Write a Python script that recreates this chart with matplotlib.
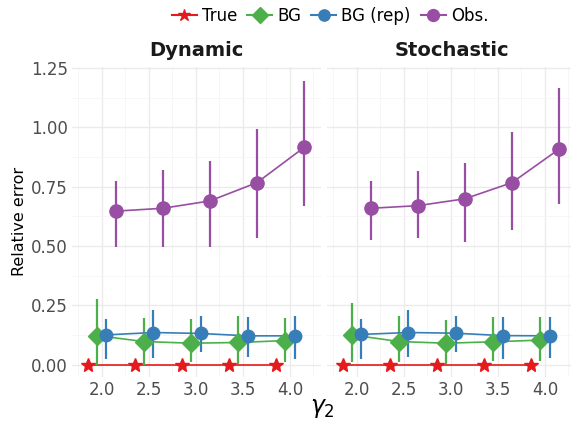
import numpy as np
import matplotlib
matplotlib.use('Agg')
import matplotlib.pyplot as plt
from matplotlib.lines import Line2D

# gamma_2 values on the x axis
gamma2 = [2.0, 2.5, 3.0, 3.5, 4.0]
panels = ['Dynamic', 'Stochastic']
series = ['True', 'BG', 'BG (rep)', 'Obs.']

# relative error: mean, lower, upper  (per panel)
true_mean = [0.0, 0.0, 0.0, 0.0, 0.0]

bg_dyn_mean = [0.123, 0.098, 0.091, 0.094, 0.102]
bg_dyn_lo = [0.0, 0.0, 0.013, 0.003, 0.011]
bg_dyn_hi = [0.275, 0.197, 0.194, 0.206, 0.197]
bg_sto_mean = [0.126, 0.098, 0.091, 0.097, 0.104]
bg_sto_lo = [0.010, 0.013, 0.005, 0.014, 0.017]
bg_sto_hi = [0.260, 0.206, 0.189, 0.203, 0.200]

rep_dyn_mean = [0.126, 0.136, 0.132, 0.122, 0.122]
rep_dyn_lo = [0.024, 0.028, 0.052, 0.032, 0.025]
rep_dyn_hi = [0.192, 0.229, 0.206, 0.200, 0.206]
rep_sto_mean = [0.128, 0.136, 0.133, 0.123, 0.122]
rep_sto_lo = [0.025, 0.032, 0.052, 0.024, 0.028]
rep_sto_hi = [0.192, 0.230, 0.206, 0.203, 0.200]

obs_dyn_mean = [0.647, 0.659, 0.690, 0.767, 0.915]
obs_dyn_lo = [0.498, 0.498, 0.498, 0.533, 0.670]
obs_dyn_hi = [0.774, 0.819, 0.860, 0.993, 1.195]
obs_sto_mean = [0.659, 0.670, 0.699, 0.767, 0.908]
obs_sto_lo = [0.526, 0.533, 0.519, 0.567, 0.678]
obs_sto_hi = [0.774, 0.816, 0.851, 0.979, 1.167]

colors = {'True': '#E41A1C', 'BG': '#4DAF4A', 'BG (rep)': '#377EB8', 'Obs.': '#984EA3'}
markers = {'True': '*', 'BG': 'D', 'BG (rep)': 'o', 'Obs.': 'o'}
msizes = {'True': 10, 'BG': 9, 'BG (rep)': 9, 'Obs.': 9.5}
dodge = {'True': -0.15, 'BG': -0.05, 'BG (rep)': 0.05, 'Obs.': 0.15}

data = {
    'Dynamic': {
        'True': (true_mean, None, None),
        'BG': (bg_dyn_mean, bg_dyn_lo, bg_dyn_hi),
        'BG (rep)': (rep_dyn_mean, rep_dyn_lo, rep_dyn_hi),
        'Obs.': (obs_dyn_mean, obs_dyn_lo, obs_dyn_hi),
    },
    'Stochastic': {
        'True': (true_mean, None, None),
        'BG': (bg_sto_mean, bg_sto_lo, bg_sto_hi),
        'BG (rep)': (rep_sto_mean, rep_sto_lo, rep_sto_hi),
        'Obs.': (obs_sto_mean, obs_sto_lo, obs_sto_hi),
    },
}

W, H = 571, 423
fig = plt.figure(figsize=(W / 100, H / 100), dpi=100)
txt = '#4d4d4d'

ax_left = [72, 327]
ax_w = 249
ax_bottom = 423 - 376.7
ax_h = 310

x = np.array(gamma2)
for i, panel in enumerate(panels):
    ax = fig.add_axes([ax_left[i] / W, ax_bottom / H, ax_w / W, ax_h / H])
    for s in series:
        mean, lo, hi = data[panel][s]
        xs = x + dodge[s]
        c = colors[s]
        if lo is not None:
            ax.vlines(xs, lo, hi, color=c, lw=1.6, zorder=3)
        ax.plot(xs, mean, color=c, lw=1.2, zorder=3)
        ax.plot(xs, mean, ls='none', marker=markers[s], ms=msizes[s],
                color=c, mec=c, zorder=4)
    ax.set_xlim(1.685, 4.33)
    ax.set_ylim(-0.05, 1.255)
    ax.set_xticks(gamma2)
    ax.set_xticks([1.75, 2.25, 2.75, 3.25, 3.75, 4.25], minor=True)
    ax.set_yticks([0, 0.25, 0.5, 0.75, 1.0, 1.25])
    ax.set_yticks([0.125, 0.375, 0.625, 0.875, 1.125], minor=True)
    ax.grid(which='major', color='#ebebeb', lw=1.0, zorder=0)
    ax.grid(which='minor', color='#f5f5f5', lw=0.6, zorder=0)
    ax.set_axisbelow(True)
    for sp in ax.spines.values():
        sp.set_visible(False)
    ax.tick_params(which='both', length=0, labelsize=12, colors=txt, pad=3)
    if i == 0:
        ax.set_yticklabels(['0.00', '0.25', '0.50', '0.75', '1.00', '1.25'])
        ax.set_ylabel('Relative error', fontsize=11.5, color='black', labelpad=3)
    else:
        ax.set_yticklabels([])
    ax.set_xticklabels(['2.0', '2.5', '3.0', '3.5', '4.0'])
    ax.set_title(panel, fontsize=14, fontweight='bold', color='#1a1a1a', pad=8)

fig.text(322 / W, 1 - 408 / H, r'$\gamma_2$', fontsize=17, ha='center', va='center')

handles = [Line2D([0], [0], color=colors[s], marker=markers[s], ms=msizes[s] * 0.9,
                  lw=1.5) for s in series]
fig.legend(handles, series, loc='center', bbox_to_anchor=(330 / W, 1 - 16 / H),
           ncol=4, frameon=False, fontsize=12, handlelength=1.5, handletextpad=0.3,
           columnspacing=0.6, borderpad=0)

fig.savefig('out.png', dpi=100)
